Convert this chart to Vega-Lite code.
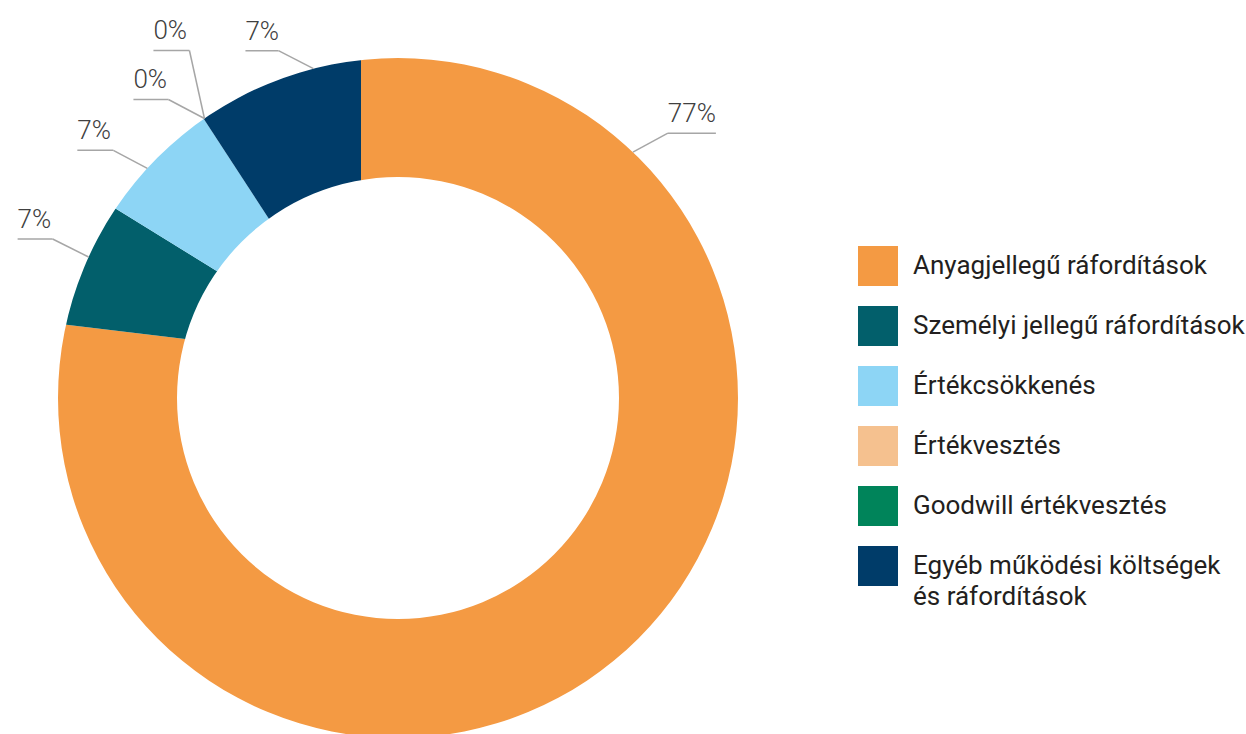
{
  "$schema": "https://vega.github.io/schema/vega-lite/v6.json",
  "width": 1246,
  "height": 734,
  "autosize": {"type": "none"},
  "padding": 0,
  "background": "white",
  "config": {
    "view": {"stroke": null},
    "style": {"guide-label": {"lineHeight": 31}},
    "legend": {
      "orient": "none",
      "legendX": 858,
      "legendY": 246,
      "padding": 0,
      "symbolType": "square",
      "symbolSize": 1600,
      "symbolStrokeWidth": 0,
      "labelFont": "Roboto",
      "labelFontSize": 26,
      "labelColor": "#231f20",
      "labelOffset": 15,
      "labelLimit": 500,
      "rowPadding": 20,
      "zindex": 1
    }
  },
  "data": {
    "values": [
      {"cat": "Anyagjellegű ráfordítások", "value": 76.9, "label": "77%", "ord": 1},
      {"cat": "Személyi jellegű ráfordítások", "value": 6.9, "label": "7%", "ord": 2},
      {"cat": "Értékcsökkenés", "value": 7.0, "label": "7%", "ord": 3},
      {"cat": "Értékvesztés", "value": 0, "label": "0%", "ord": 4},
      {"cat": "Goodwill értékvesztés", "value": 0, "label": "0%", "ord": 5},
      {"cat": "Egyéb működési költségek és ráfordítások", "value": 9.2, "label": "7%", "ord": 6}
    ]
  },
  "layer": [
    {
      "mark": {"type": "arc", "outerRadius": 396, "innerRadius": 0},
      "encoding": {
        "theta": {"field": "value", "type": "quantitative", "stack": true},
        "order": {"field": "ord", "type": "quantitative"},
        "color": {
          "field": "cat",
          "type": "nominal",
          "title": null,
          "scale": {
            "domain": ["Anyagjellegű ráfordítások", "Személyi jellegű ráfordítások", "Értékcsökkenés", "Értékvesztés", "Goodwill értékvesztés", "Egyéb működési költségek és ráfordítások"],
            "range": ["#F49A43", "#025F6B", "#8DD5F5", "#F5C18F", "#00845A", "#003C69"]
          },
          "legend": {
            "labelExpr": "datum.label == 'Egyéb működési költségek és ráfordítások' ? ['Egyéb működési költségek', 'és ráfordítások'] : datum.label"
          }
        },
        "x": {"datum": -37, "type": "quantitative", "scale": {"domain": [-398, 848], "nice": false, "zero": false}, "axis": null},
        "y": {"datum": 38, "type": "quantitative", "scale": {"domain": [-336, 398], "nice": false, "zero": false}, "axis": null}
      }
    },
    {
      "data": {"values": [{"k": 1}]},
      "mark": {"type": "arc", "theta": 6.2832, "innerRadius": 340, "outerRadius": 456, "fill": "white"},
      "encoding": {
        "x": {"datum": 0, "type": "quantitative", "scale": {"domain": [-398, 848], "nice": false, "zero": false}, "axis": null},
        "y": {"datum": 0, "type": "quantitative", "scale": {"domain": [-336, 398], "nice": false, "zero": false}, "axis": null}
      }
    },
    {
      "data": {"values": [{"k": 1}]},
      "mark": {"type": "arc", "theta": 6.2832, "innerRadius": 0, "outerRadius": 221, "fill": "white"},
      "encoding": {
        "x": {"datum": 0, "type": "quantitative", "scale": {"domain": [-398, 848], "nice": false, "zero": false}, "axis": null},
        "y": {"datum": 0, "type": "quantitative", "scale": {"domain": [-336, 398], "nice": false, "zero": false}, "axis": null}
      }
    },
    {
      "transform": [
        {"calculate": "[43.7, 294.5, 312.5, 325.3, 325.3, 345.6][datum.ord - 1] * PI / 180", "as": "a"},
        {"calculate": "340 * sin(datum.a)", "as": "ax"},
        {"calculate": "340 * cos(datum.a)", "as": "ay"},
        {"calculate": "datum.ax + [35, -36, -34, -36, -15, -35][datum.ord - 1]", "as": "ex"},
        {"calculate": "datum.ay + [19, 18, 18, 19, 68, 18][datum.ord - 1]", "as": "ey"},
        {"calculate": "datum.ex + [48, -35, -36, -35, -36, -33][datum.ord - 1]", "as": "tx"}
      ],
      "layer": [
        {
          "mark": {"type": "rule", "stroke": "#a6a6a6", "strokeWidth": 1.5},
          "encoding": {
            "x": {"field": "ax", "type": "quantitative", "scale": {"domain": [-398, 848], "nice": false, "zero": false}, "axis": null},
            "y": {"field": "ay", "type": "quantitative", "scale": {"domain": [-336, 398], "nice": false, "zero": false}, "axis": null},
            "x2": {"field": "ex"},
            "y2": {"field": "ey"}
          }
        },
        {
          "mark": {"type": "rule", "stroke": "#a6a6a6", "strokeWidth": 1.5},
          "encoding": {
            "x": {"field": "ex", "type": "quantitative", "scale": {"domain": [-398, 848], "nice": false, "zero": false}, "axis": null},
            "y": {"field": "ey", "type": "quantitative", "scale": {"domain": [-336, 398], "nice": false, "zero": false}, "axis": null},
            "x2": {"field": "tx"},
            "y2": {"field": "ey"}
          }
        },
        {
          "transform": [{"filter": "datum.ord != 1"}],
          "mark": {"type": "text", "align": "left", "baseline": "alphabetic", "dy": -11, "font": "Roboto", "fontSize": 26, "fontWeight": 300, "fill": "#404040"},
          "encoding": {
            "x": {"field": "tx", "type": "quantitative", "scale": {"domain": [-398, 848], "nice": false, "zero": false}, "axis": null},
            "y": {"field": "ey", "type": "quantitative", "scale": {"domain": [-336, 398], "nice": false, "zero": false}, "axis": null},
            "text": {"field": "label"}
          }
        },
        {
          "transform": [{"filter": "datum.ord == 1"}],
          "mark": {"type": "text", "align": "right", "baseline": "alphabetic", "dy": -11, "font": "Roboto", "fontSize": 26, "fontWeight": 300, "fill": "#404040"},
          "encoding": {
            "x": {"field": "tx", "type": "quantitative", "scale": {"domain": [-398, 848], "nice": false, "zero": false}, "axis": null},
            "y": {"field": "ey", "type": "quantitative", "scale": {"domain": [-336, 398], "nice": false, "zero": false}, "axis": null},
            "text": {"field": "label"}
          }
        }
      ]
    }
  ]
}
